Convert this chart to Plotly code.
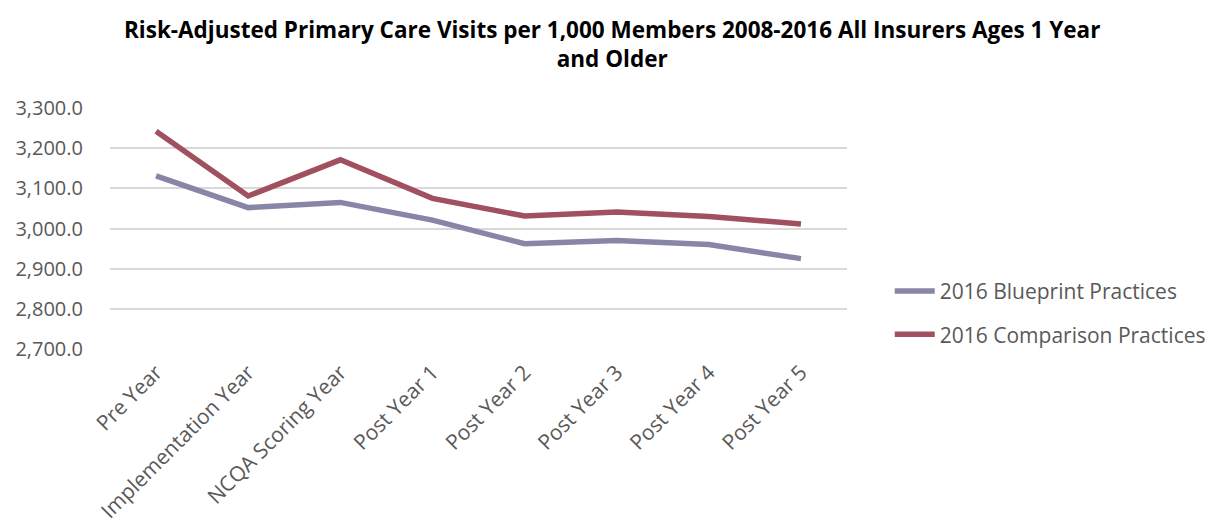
import plotly.graph_objects as go

categories = ["Pre Year", "Implementation Year", "NCQA Scoring Year", "Post Year 1",
              "Post Year 2", "Post Year 3", "Post Year 4", "Post Year 5"]
blueprint = [3131, 3052, 3065, 3021, 2962, 2970, 2960, 2925]
comparison = [3242, 3081, 3171, 3075, 3031, 3041, 3030, 3011]
y_ticks = [2700, 2800, 2900, 3000, 3100, 3200, 3300]
title_text = ("<b>Risk-Adjusted Primary Care Visits per 1,000 Members 2008-2016 All Insurers Ages 1 Year"
              "<br>and Older</b>")

FONT = "Open Sans"
TXT = "#595959"

fig = go.Figure()
fig.add_trace(go.Scatter(x=categories, y=blueprint, mode="lines",
                         name="2016 Blueprint Practices", legendgroup="a",
                         line=dict(color="#8886A6", width=5.5)))
fig.add_trace(go.Scatter(x=categories, y=comparison, mode="lines",
                         name="2016 Comparison Practices", legendgroup="b",
                         line=dict(color="#A0505E", width=5.5)))

fig.add_annotation(text=title_text, xref="paper", yref="paper",
                   x=0.681, y=1.40, xanchor="center", yanchor="top",
                   showarrow=False, align="center",
                   font=dict(family=FONT, size=22.5, color="black"))

fig.update_layout(
    width=1215, height=523,
    paper_bgcolor="white", plot_bgcolor="white",
    margin=dict(l=102, r=376, t=100, b=182, autoexpand=False),
    font=dict(family=FONT, size=20, color=TXT),
    xaxis=dict(showgrid=False, showline=False, zeroline=False, tickangle=-45,
               ticks="", range=[-0.5, 7.5], automargin=False,
               ticklabelstandoff=6,
               tickfont=dict(size=21, color=TXT)),
    yaxis=dict(range=[2700, 3300], tickvals=y_ticks, tickformat=",.1f",
               showgrid=True, gridcolor="#D9D9D9", gridwidth=1.5,
               zeroline=False, showline=False, ticks="", automargin=False,
               ticklabelstandoff=26,
               tickfont=dict(size=20, color=TXT)),
    legend=dict(x=1.058, y=0.324, xanchor="left", yanchor="top",
                traceorder="grouped", tracegroupgap=13,
                font=dict(size=21, color=TXT), itemwidth=40),
    showlegend=True,
)

fig.write_html("out.html")
